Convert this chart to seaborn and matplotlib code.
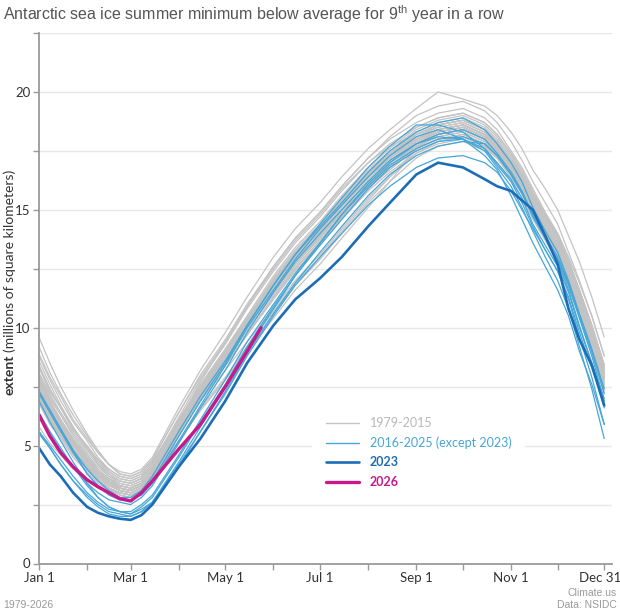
import pandas as pd
import seaborn as sns
import matplotlib.pyplot as plt
from matplotlib.lines import Line2D
from matplotlib.transforms import ScaledTranslation

sns.set_theme(style='white')
plt.rcParams['font.family'] = ['Lato', 'DejaVu Sans']
plt.rcParams['mathtext.fontset'] = 'custom'
plt.rcParams['mathtext.rm'] = 'Liberation Sans'

# day of year of each reading
days = [1, 8, 15, 23, 32, 39, 46, 53, 60, 67, 74,
        91, 105, 121, 135, 152, 166, 182, 196, 213, 227,
        244, 258, 274, 288,
        296, 305, 312, 319, 327, 335, 342, 349, 357, 365]

# extent, millions of km2
gray_years = list(range(1979, 2016))
gray_vals = [
    [7.1, 6.2, 5.6, 4.8, 4.1, 3.7, 3.3, 3.1, 3.0, 3.2, 3.7, 5.7, 7.2, 8.7, 10.2, 11.8, 13.0, 14.1, 15.2, 16.4, 17.2, 18.0, 18.4, 18.6, 18.2, 17.7, 16.9, 16.2, 15.3, 14.3, 13.4, 12.3, 11.1, 9.6, 7.9],
    [8.0, 7.1, 6.3, 5.5, 4.7, 4.2, 3.8, 3.5, 3.4, 3.6, 4.1, 6.0, 7.5, 8.9, 10.3, 11.9, 13.1, 14.2, 15.3, 16.5, 17.3, 18.2, 18.6, 18.8, 18.4, 17.9, 17.1, 16.4, 15.5, 14.6, 13.7, 12.6, 11.4, 9.9, 8.2],
    [8.6, 7.6, 6.7, 5.8, 4.9, 4.2, 3.7, 3.4, 3.3, 3.5, 4.0, 5.9, 7.5, 9.0, 10.4, 12.0, 13.2, 14.3, 15.4, 16.6, 17.4, 18.3, 18.7, 18.9, 18.5, 18.0, 17.2, 16.5, 15.6, 14.8, 13.9, 12.8, 11.6, 10.1, 8.4],
    [7.6, 6.7, 6.0, 5.2, 4.6, 4.1, 3.7, 3.5, 3.4, 3.6, 4.1, 5.9, 7.3, 8.7, 10.1, 11.6, 12.8, 13.9, 15.0, 16.2, 17.0, 17.9, 18.3, 18.5, 18.1, 17.7, 17.0, 16.4, 15.6, 14.8, 14.0, 13.0, 11.9, 10.5, 8.8],
    [8.3, 7.3, 6.6, 5.7, 5.0, 4.4, 4.0, 3.7, 3.6, 3.8, 4.3, 6.1, 7.5, 8.9, 10.3, 11.8, 13.0, 14.1, 15.2, 16.4, 17.2, 18.0, 18.4, 18.6, 18.2, 17.7, 16.9, 16.3, 15.4, 14.5, 13.6, 12.6, 11.4, 9.9, 8.2],
    [7.7, 6.7, 6.0, 5.1, 4.4, 3.8, 3.4, 3.1, 3.0, 3.2, 3.7, 5.6, 7.0, 8.5, 9.9, 11.5, 12.7, 13.8, 14.9, 16.1, 16.9, 17.6, 18.0, 18.2, 17.8, 17.3, 16.5, 15.9, 15.0, 14.1, 13.2, 12.2, 11.0, 9.5, 7.8],
    [7.4, 6.5, 5.8, 5.0, 4.2, 3.7, 3.4, 3.1, 3.0, 3.2, 3.7, 5.7, 7.3, 8.9, 10.3, 12.0, 13.2, 14.3, 15.4, 16.6, 17.4, 18.2, 18.6, 18.8, 18.4, 17.9, 17.1, 16.5, 15.6, 14.7, 13.8, 12.8, 11.6, 10.1, 8.4],
    [8.4, 7.4, 6.6, 5.7, 4.9, 4.3, 3.8, 3.5, 3.4, 3.6, 4.1, 5.6, 6.9, 8.2, 9.4, 10.8, 12.0, 13.1, 14.2, 15.5, 16.4, 17.4, 17.9, 18.1, 17.7, 17.2, 16.4, 15.7, 14.8, 13.8, 12.9, 11.8, 10.6, 9.1, 7.4],
    [6.9, 6.0, 5.4, 4.6, 4.0, 3.5, 3.2, 3.0, 2.9, 3.1, 3.6, 5.4, 6.9, 8.4, 9.7, 11.3, 12.5, 13.6, 14.7, 15.9, 16.8, 17.8, 18.3, 18.5, 18.1, 17.6, 16.8, 16.1, 15.2, 14.3, 13.4, 12.3, 11.1, 9.6, 7.9],
    [7.5, 6.6, 5.9, 5.1, 4.3, 3.8, 3.5, 3.2, 3.1, 3.3, 3.8, 5.7, 7.2, 8.6, 10.0, 11.6, 12.8, 13.9, 15.0, 16.2, 17.0, 17.7, 18.1, 18.3, 17.9, 17.4, 16.6, 15.9, 15.0, 14.0, 13.1, 12.0, 10.8, 9.3, 7.6],
    [7.2, 6.3, 5.6, 4.8, 4.2, 3.7, 3.3, 3.1, 3.0, 3.2, 3.7, 5.2, 6.5, 7.8, 9.0, 10.4, 11.6, 12.7, 13.8, 15.1, 16.2, 17.6, 18.2, 18.4, 18.0, 17.5, 16.7, 16.0, 15.1, 14.2, 13.3, 12.2, 11.0, 9.5, 7.8],
    [5.8, 5.1, 4.6, 4.0, 3.5, 3.3, 3.1, 3.0, 2.9, 3.1, 3.6, 5.4, 6.9, 8.4, 9.7, 11.3, 12.5, 13.6, 14.7, 15.9, 16.7, 17.6, 18.0, 18.2, 17.8, 17.3, 16.5, 15.8, 14.9, 13.9, 13.0, 11.9, 10.7, 9.2, 7.5],
    [7.1, 6.2, 5.5, 4.7, 4.1, 3.6, 3.2, 3.0, 2.9, 3.1, 3.6, 5.5, 7.1, 8.6, 10.0, 11.6, 12.8, 13.9, 15.0, 16.2, 17.0, 17.7, 18.1, 18.3, 17.9, 17.4, 16.6, 15.9, 15.0, 14.1, 13.2, 12.1, 10.9, 9.4, 7.7],
    [6.8, 5.9, 5.3, 4.5, 3.9, 3.4, 3.1, 2.9, 2.8, 3.0, 3.5, 5.2, 6.6, 7.9, 9.2, 10.7, 11.9, 13.0, 14.1, 15.4, 16.4, 17.6, 18.2, 18.4, 18.0, 17.5, 16.7, 16.1, 15.2, 14.3, 13.4, 12.4, 11.2, 9.7, 8.0],
    [7.4, 6.5, 5.7, 4.9, 4.1, 3.6, 3.2, 2.9, 2.8, 3.0, 3.5, 5.4, 7.0, 8.5, 9.9, 11.5, 12.7, 13.8, 14.9, 16.1, 16.8, 17.5, 17.9, 18.1, 17.7, 17.2, 16.4, 15.7, 14.8, 13.9, 13.0, 11.9, 10.7, 9.2, 7.5],
    [7.0, 6.2, 5.5, 4.8, 4.1, 3.7, 3.4, 3.2, 3.1, 3.3, 3.8, 5.8, 7.3, 8.8, 10.3, 11.9, 13.1, 14.2, 15.3, 16.5, 17.3, 18.0, 18.4, 18.6, 18.2, 17.7, 16.9, 16.2, 15.3, 14.4, 13.5, 12.4, 11.2, 9.7, 8.0],
    [7.3, 6.4, 5.8, 5.0, 4.3, 3.9, 3.5, 3.3, 3.2, 3.4, 3.9, 5.9, 7.4, 8.9, 10.4, 12.0, 13.2, 14.3, 15.4, 16.6, 17.4, 18.2, 18.6, 18.8, 18.4, 17.9, 17.1, 16.4, 15.5, 14.7, 13.8, 12.7, 11.5, 10.0, 8.3],
    [7.6, 6.7, 5.9, 5.1, 4.4, 3.9, 3.5, 3.2, 3.1, 3.3, 3.8, 5.6, 7.0, 8.4, 9.7, 11.2, 12.4, 13.5, 14.6, 15.8, 16.6, 17.4, 17.8, 18.0, 17.6, 17.2, 16.4, 15.8, 14.9, 14.1, 13.3, 12.2, 11.1, 9.6, 7.9],
    [7.8, 6.9, 6.1, 5.3, 4.5, 4.0, 3.6, 3.3, 3.2, 3.4, 3.9, 5.7, 7.1, 8.5, 9.9, 11.4, 12.6, 13.7, 14.8, 16.0, 16.8, 17.6, 18.0, 18.2, 17.8, 17.3, 16.5, 15.7, 14.8, 13.9, 13.0, 11.8, 10.6, 9.1, 7.4],
    [6.9, 6.1, 5.4, 4.7, 4.0, 3.6, 3.2, 3.0, 2.9, 3.1, 3.6, 5.6, 7.2, 8.7, 10.2, 11.8, 13.0, 14.1, 15.2, 16.4, 17.1, 17.8, 18.2, 18.4, 18.0, 17.5, 16.7, 15.9, 15.0, 14.1, 13.2, 12.0, 10.8, 9.3, 7.6],
    [7.0, 6.3, 5.6, 4.8, 4.2, 3.7, 3.4, 3.2, 3.1, 3.3, 3.9, 5.8, 7.3, 8.8, 10.3, 11.9, 13.1, 14.2, 15.3, 16.5, 17.2, 17.9, 18.3, 18.5, 18.1, 17.6, 16.8, 16.1, 15.2, 14.3, 13.4, 12.3, 11.1, 9.6, 7.9],
    [7.5, 6.6, 5.9, 5.1, 4.4, 3.9, 3.5, 3.3, 3.2, 3.4, 3.9, 5.8, 7.3, 8.7, 10.1, 11.7, 12.9, 14.0, 15.1, 16.3, 17.1, 17.9, 18.3, 18.5, 18.1, 17.6, 16.8, 16.2, 15.3, 14.4, 13.5, 12.4, 11.2, 9.7, 8.0],
    [7.7, 6.7, 6.0, 5.2, 4.4, 3.8, 3.4, 3.1, 3.0, 3.2, 3.7, 5.5, 7.0, 8.4, 9.7, 11.3, 12.5, 13.6, 14.7, 15.9, 16.8, 17.7, 18.2, 18.4, 18.0, 17.5, 16.7, 16.0, 15.1, 14.2, 13.3, 12.2, 11.0, 9.5, 7.8],
    [7.2, 6.3, 5.6, 4.8, 4.0, 3.5, 3.2, 2.9, 2.8, 3.0, 3.5, 5.2, 6.5, 7.8, 9.1, 10.6, 11.8, 12.9, 14.0, 15.3, 16.2, 17.2, 17.7, 17.9, 17.5, 17.0, 16.2, 15.5, 14.6, 13.7, 12.8, 11.7, 10.5, 9.0, 7.3],
    [6.8, 6.0, 5.4, 4.8, 4.2, 3.8, 3.6, 3.4, 3.3, 3.5, 4.0, 5.8, 7.3, 8.7, 10.0, 11.6, 12.8, 13.9, 15.0, 16.2, 17.0, 17.8, 18.2, 18.4, 18.0, 17.5, 16.8, 16.1, 15.2, 14.4, 13.5, 12.4, 11.3, 9.8, 8.1],
    [8.1, 7.2, 6.4, 5.6, 4.8, 4.3, 3.9, 3.6, 3.5, 3.7, 4.2, 6.0, 7.5, 8.9, 10.2, 11.8, 13.0, 14.1, 15.2, 16.4, 17.2, 18.0, 18.4, 18.6, 18.2, 17.7, 16.8, 16.1, 15.2, 14.2, 13.3, 12.2, 10.9, 9.4, 7.7],
    [7.4, 6.5, 5.8, 5.0, 4.3, 3.8, 3.4, 3.2, 3.1, 3.3, 3.8, 5.8, 7.3, 8.8, 10.3, 11.9, 13.1, 14.2, 15.3, 16.5, 17.3, 18.1, 18.5, 18.7, 18.3, 17.8, 17.0, 16.3, 15.4, 14.4, 13.5, 12.4, 11.2, 9.7, 8.0],
    [7.0, 6.1, 5.5, 4.7, 4.0, 3.6, 3.2, 3.0, 2.9, 3.1, 3.6, 5.7, 7.3, 8.9, 10.3, 12.0, 13.2, 14.3, 15.4, 16.6, 17.3, 18.0, 18.3, 18.5, 18.1, 17.6, 16.8, 16.1, 15.2, 14.2, 13.3, 12.2, 11.0, 9.5, 7.8],
    [8.0, 7.0, 6.3, 5.4, 4.6, 4.0, 3.6, 3.3, 3.2, 3.4, 3.9, 5.9, 7.5, 9.1, 10.5, 12.2, 13.4, 14.5, 15.6, 16.8, 17.6, 18.5, 18.9, 19.1, 18.7, 18.2, 17.4, 16.6, 15.7, 14.8, 13.9, 12.7, 11.5, 10.0, 8.3],
    [8.8, 7.8, 6.9, 6.0, 5.2, 4.5, 4.0, 3.7, 3.6, 3.8, 4.3, 6.1, 7.6, 9.1, 10.4, 12.0, 13.2, 14.3, 15.4, 16.6, 17.3, 18.0, 18.4, 18.6, 18.2, 17.7, 16.9, 16.2, 15.3, 14.5, 13.6, 12.5, 11.3, 9.8, 8.1],
    [7.8, 6.8, 6.1, 5.2, 4.5, 3.9, 3.5, 3.2, 3.1, 3.3, 3.8, 5.8, 7.4, 9.0, 10.4, 12.1, 13.3, 14.4, 15.5, 16.7, 17.5, 18.4, 18.8, 19.0, 18.6, 18.1, 17.3, 16.5, 15.6, 14.7, 13.8, 12.6, 11.4, 9.9, 8.2],
    [8.4, 7.4, 6.6, 5.7, 4.9, 4.4, 3.9, 3.6, 3.5, 3.7, 4.2, 6.2, 7.8, 9.3, 10.8, 12.4, 13.6, 14.7, 15.8, 17.0, 17.8, 18.5, 18.9, 19.1, 18.7, 18.2, 17.4, 16.7, 15.8, 14.8, 13.9, 12.8, 11.6, 10.1, 8.4],
    [7.9, 6.9, 6.1, 5.2, 4.4, 3.9, 3.4, 3.1, 3.0, 3.2, 3.7, 5.7, 7.2, 8.7, 10.2, 11.8, 13.0, 14.1, 15.2, 16.4, 17.3, 18.2, 18.6, 18.8, 18.4, 17.9, 17.0, 16.3, 15.4, 14.4, 13.5, 12.4, 11.1, 9.6, 7.9],
    [7.5, 6.6, 5.9, 5.1, 4.4, 3.9, 3.5, 3.3, 3.2, 3.4, 3.9, 6.0, 7.7, 9.4, 10.9, 12.6, 13.8, 14.9, 16.0, 17.2, 18.0, 18.7, 19.1, 19.3, 18.9, 18.4, 17.5, 16.8, 15.9, 14.9, 14.0, 12.9, 11.6, 10.1, 8.4],
    [9.6, 8.5, 7.5, 6.5, 5.5, 4.8, 4.2, 3.8, 3.7, 3.9, 4.4, 6.4, 8.0, 9.5, 11.0, 12.6, 13.8, 14.9, 16.0, 17.2, 18.1, 19.0, 19.4, 19.6, 19.2, 18.7, 17.9, 17.1, 16.2, 15.3, 14.4, 13.2, 12.0, 10.5, 8.8],
    [8.9, 7.9, 7.1, 6.1, 5.3, 4.7, 4.2, 3.9, 3.8, 4.0, 4.5, 6.6, 8.2, 9.8, 11.3, 13.0, 14.2, 15.3, 16.4, 17.6, 18.4, 19.3, 20.0, 19.7, 19.4, 19.0, 18.3, 17.6, 16.7, 15.9, 15.0, 13.9, 12.8, 11.3, 9.6],
    [9.2, 8.1, 7.2, 6.3, 5.4, 4.7, 4.2, 3.8, 3.7, 3.9, 4.4, 6.4, 7.9, 9.4, 10.9, 12.5, 13.7, 14.8, 15.9, 17.0, 17.7, 18.2, 18.5, 18.7, 18.3, 17.7, 16.8, 16.0, 15.0, 14.0, 13.0, 11.8, 10.5, 8.9, 7.2],
]

blue_years = [2016, 2017, 2018, 2019, 2020, 2021, 2022, 2024, 2025]
blue_vals = [
    [7.3, 6.5, 5.7, 4.8, 4.0, 3.5, 3.1, 2.8, 2.7, 2.9, 3.4, 5.2, 6.7, 8.4, 10.0, 11.6, 12.9, 14.2, 15.2, 16.4, 17.3, 18.1, 18.4, 18.0, 17.3, 16.7, 15.6, 14.6, 13.6, 12.6, 11.6, 10.5, 9.0, 7.6, 5.9],
    [5.6, 5.0, 4.4, 3.7, 3.0, 2.6, 2.3, 2.2, 2.1, 2.3, 2.6, 4.1, 5.6, 7.3, 8.9, 10.6, 11.9, 13.2, 14.3, 15.6, 16.5, 17.3, 17.7, 17.9, 17.8, 17.3, 16.5, 15.7, 14.7, 13.8, 12.9, 11.8, 10.4, 8.8, 6.9],
    [6.4, 5.6, 4.9, 4.1, 3.3, 2.8, 2.4, 2.2, 2.2, 2.5, 2.9, 4.6, 6.1, 7.8, 9.4, 11.0, 12.3, 13.6, 14.8, 16.0, 16.9, 17.6, 18.0, 18.1, 17.8, 17.3, 16.5, 15.7, 14.8, 13.8, 12.8, 11.6, 10.1, 8.5, 6.6],
    [6.3, 5.5, 4.8, 4.1, 3.4, 3.0, 2.7, 2.6, 2.5, 2.8, 3.3, 5.1, 6.6, 8.2, 9.8, 11.5, 12.8, 14.0, 15.0, 16.2, 17.1, 17.8, 18.2, 18.4, 18.0, 17.4, 16.6, 15.8, 14.8, 13.9, 13.0, 11.9, 10.5, 9.0, 7.2],
    [7.2, 6.4, 5.6, 4.7, 3.8, 3.3, 3.0, 2.8, 2.8, 3.1, 3.7, 5.6, 7.1, 8.6, 10.1, 11.8, 13.1, 14.3, 15.3, 16.6, 17.5, 18.3, 18.7, 18.9, 18.4, 17.8, 17.0, 16.2, 15.1, 14.1, 13.2, 12.0, 10.6, 9.1, 7.4],
    [7.3, 6.5, 5.7, 4.8, 3.8, 3.3, 2.9, 2.7, 2.7, 3.0, 3.5, 5.4, 6.9, 8.5, 10.1, 11.8, 13.1, 14.4, 15.5, 16.8, 17.7, 18.6, 18.6, 18.3, 17.6, 16.9, 16.2, 15.3, 14.3, 13.3, 12.4, 11.2, 9.6, 7.9, 5.9],
    [5.6, 4.9, 4.2, 3.5, 2.8, 2.4, 2.1, 2.0, 2.0, 2.2, 2.6, 4.3, 5.8, 7.5, 9.1, 10.8, 12.2, 13.6, 14.8, 16.1, 17.0, 17.8, 18.1, 18.0, 17.5, 16.8, 16.0, 15.1, 14.1, 13.0, 12.0, 10.8, 9.2, 7.4, 5.3],
    [5.5, 4.9, 4.2, 3.5, 2.9, 2.5, 2.2, 2.1, 2.0, 2.2, 2.6, 4.2, 5.6, 7.2, 8.8, 10.5, 11.8, 13.0, 14.0, 15.2, 16.0, 16.8, 17.2, 17.3, 17.0, 16.6, 15.8, 15.0, 14.2, 13.3, 12.4, 11.3, 9.8, 8.3, 6.8],
    [6.9, 6.0, 5.2, 4.3, 3.4, 2.8, 2.4, 2.2, 2.1, 2.4, 2.8, 4.5, 6.0, 7.6, 9.2, 10.9, 12.2, 13.5, 14.6, 15.9, 16.8, 17.5, 17.9, 18.0, 17.6, 17.0, 16.3, 15.5, 14.4, 13.5, 12.6, 11.5, 10.0, 8.5, 7.0],
]

ext_2023 = [4.9, 4.2, 3.7, 3.0, 2.4, 2.15, 2.0, 1.9, 1.85, 2.05, 2.5,
            4.1, 5.3, 6.9, 8.5, 10.1, 11.2, 12.1, 13.0, 14.3, 15.3,
            16.5, 17.0, 16.8, 16.3,
            16.0, 15.8, 15.4, 15.0, 13.9, 12.7, 10.8, 9.5, 8.4, 6.7]

days_2026 = [1, 8, 15, 23, 32, 39, 46, 53, 60, 67, 74, 91, 105, 121, 135, 144]
ext_2026 = [6.3, 5.4, 4.7, 4.1, 3.55, 3.25, 3.0, 2.75, 2.65, 3.0, 3.5, 4.85, 5.9, 7.5, 9.0, 10.0]

month_ticks = [1, 32, 60, 91, 121, 152, 182, 213, 244, 274, 305, 335, 365]
month_labels = ['Jan 1', '', 'Mar 1', '', 'May 1', '', 'Jul 1', '', 'Sep 1', '', 'Nov 1', '', 'Dec 31']

c_gray, c_blue, c_23, c_26 = '#c3c3c3', '#45a6d8', '#1c6db5', '#c8188a'


def to_long(years, rows, d):
    recs = [(y, x, v) for y, row in zip(years, rows) for x, v in zip(d, row)]
    return pd.DataFrame(recs, columns=['year', 'day', 'extent'])


gray_df = to_long(gray_years, gray_vals, days)
blue_df = to_long(blue_years, blue_vals, days)
df23 = pd.DataFrame({'day': days, 'extent': ext_2023})
df26 = pd.DataFrame({'day': days_2026, 'extent': ext_2026})

fig = plt.figure(figsize=(6.2, 6.15), dpi=100)
ax = fig.add_axes([39 / 620, 1 - 563.5 / 615, 573 / 620, 530.5 / 615])

yt = [i * 2.5 for i in range(10)]
for v in yt[1:]:
    ax.axhline(v, color='#e8e8e8', lw=1, zorder=0)

sns.lineplot(data=gray_df, x='day', y='extent', units='year', estimator=None,
             color=c_gray, lw=0.9, ax=ax, legend=False)
sns.lineplot(data=blue_df, x='day', y='extent', units='year', estimator=None,
             color=c_blue, lw=0.9, ax=ax, legend=False)
sns.lineplot(data=df23, x='day', y='extent', color=c_23, lw=1.9, ax=ax)
sns.lineplot(data=df26, x='day', y='extent', color=c_26, lw=2.4, ax=ax)

ax.set_xlim(1, 370)
ax.set_ylim(0, 22.5)
ax.set_xticks(month_ticks)
ax.set_xticklabels(month_labels)
ax.set_yticks(yt)
ax.set_yticklabels([f'{v:g}' if v % 5 == 0 else '' for v in yt])
ax.set_xlabel('')
ax.set_ylabel('')
for s in ['top', 'right']:
    ax.spines[s].set_visible(False)
for s in ['left', 'bottom']:
    ax.spines[s].set_color('#9a9a9a')
    ax.spines[s].set_linewidth(1.3)
ax.tick_params(axis='both', direction='out', length=4, width=1, color='#9a9a9a',
               left=True, bottom=True, labelsize=9.5, labelcolor='#333333', pad=2)
last = ax.get_xticklabels()[-1]
last.set_transform(last.get_transform() + ScaledTranslation(-0.04, 0, fig.dpi_scale_trans))

handles = [Line2D([0], [0], color=c, lw=w) for c, w in
           [(c_gray, 1.0), (c_blue, 1.0), (c_23, 1.9), (c_26, 2.4)]]
labels = ['1979-2015', '2016-2025 (except 2023)', '2023', '2026']
leg = ax.legend(handles, labels, loc='upper left', bbox_to_anchor=(0.466, 0.314),
                frameon=True, facecolor='white', edgecolor='none', framealpha=1,
                fontsize=9, handlelength=2.6, handletextpad=0.9, labelspacing=0.6,
                borderpad=1.1, labelcolor=['#b8b8b8', c_blue, c_23, c_26])
for t in leg.get_texts()[2:]:
    t.set_fontweight('bold')

t1 = fig.text(0.016, 1 - 395 / 615, 'extent', rotation=90, ha='center', va='bottom',
              fontsize=10, fontweight='bold', color='#333333')
fig.canvas.draw()
top = t1.get_window_extent().y1 + 3
fig.text(0.016, top / fig.bbox.height, '(millions of square kilometers)', rotation=90,
         ha='center', va='bottom', fontsize=10, color='#333333')

narrow = ['Liberation Sans Narrow', 'Liberation Sans']
fig.text(0.005, 0.994, 'Antarctic sea ice summer minimum below average for 9$^{\\mathrm{th}}$ year in a row',
         ha='left', va='top', fontsize=11.5, color='#555555', family=narrow)
fig.text(0.005, 0.008, '1979-2026', ha='left', va='bottom', fontsize=7.5, color='#9a9a9a',
         family=narrow)
fig.text(0.995, 0.008, 'Climate.us\nData: NSIDC', ha='right', va='bottom', fontsize=7.5,
         color='#9a9a9a', linespacing=1.25, family=narrow)

fig.savefig('out.png', dpi=100)
